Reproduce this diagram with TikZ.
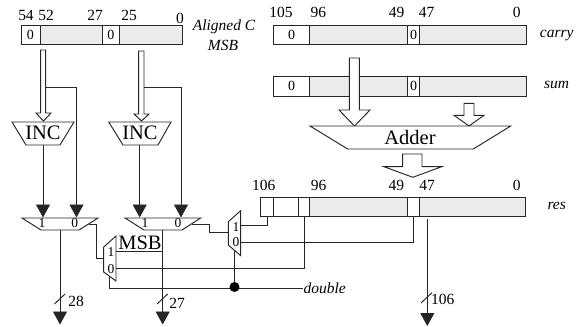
\documentclass[tikz,border=0pt]{standalone}
\usepackage{fontspec}
\setmainfont{Liberation Serif}
\usetikzlibrary{arrows.meta}
\newcommand{\regfield}[7]{\node[fieldbox,fill=#6,minimum width={(#4-#2)*1pt},minimum height={(#5-#3)*1pt}] (#1) at ({(#2+#4)/2},{(#3+#5)/2}) {#7};}
\newcommand{\hollowarrow}[7]{\draw[hollow] (#1,#3) -- (#2,#3) -- (#2,#4) -- (#6,#4) -- ({(#5+#6)/2},#7) -- (#5,#4) -- (#1,#4) -- cycle;}
\tikzset{
  wire/.style={line width=0.95pt,draw=black!85},
  arrowwire/.style={wire,-{Triangle[width=14pt,length=13pt,sep=0pt]}},
  fieldbox/.style={draw=black!85,line width=1pt,inner sep=0pt,outer sep=0pt,font=\fontsize{14}{14}\selectfont},
  hollow/.style={draw=black!85,line width=0.95pt,fill=white},
  block/.style={draw=black!85,line width=0.95pt,fill=white},
  bitnum/.style={inner sep=0pt,font=\fontsize{15.5}{15.5}\selectfont},
  muxnum/.style={inner sep=0pt,font=\fontsize{13.5}{13.5}\selectfont},
  blocktext/.style={inner sep=0pt,font=\fontsize{20.5}{20.5}\selectfont},
  side/.style={inner sep=0pt,font=\itshape\fontsize{15.5}{16}\selectfont},
  x=1pt,y=-1pt
}
\colorlet{regfill}{black!8}
\begin{document}
\begin{tikzpicture}
\useasboundingbox (0,0) rectangle (582,327);
% Aligned C
\regfield{ca}{21}{25.5}{40}{44}{white}{0}
\regfield{cb}{40}{25.5}{102.5}{44}{regfill}{}
\regfield{cc}{102.5}{25.5}{119}{44}{white}{0}
\regfield{cd}{119}{25.5}{182}{44}{regfill}{}
\foreach \n/\t/\x/\y in {a/54/26/15,b/52/46/15,c/27/95/15,d/25/129/15,e/0/180/18}
  \node[bitnum] (cl\n) at (\x,\y) {\t};
\node[side] (alignedc) at (224,27) {Aligned C};
\node[side] (msbc) at (223,45) {MSB};
% carry
\regfield{ka}{273.7}{25}{309.3}{44}{white}{0}
\regfield{kb}{309.3}{25}{407.7}{44}{regfill}{}
\regfield{kc}{407.7}{25}{419.3}{44}{white}{0}
\regfield{kd}{419.3}{25}{526}{44}{regfill}{}
\foreach \n/\t/\x in {a/105/281,b/96/318.3,c/49/396.7,d/47/426.7,e/0/516.7}
  \node[bitnum] (kl\n) at (\x,12.5) {\t};
\node[side] (carrylab) at (556.7,36) {carry};
% sum
\regfield{sa}{273.7}{76.7}{309.3}{96}{white}{0}
\regfield{sb}{309.3}{76.7}{407.7}{96}{regfill}{}
\regfield{sc}{407.7}{76.7}{419.3}{96}{white}{0}
\regfield{sd}{419.3}{76.7}{526}{96}{regfill}{}
\node[side] (sumlab) at (556.7,85) {sum};
% res
\regfield{ra}{260.7}{197.7}{273.3}{216.7}{white}{}
\regfield{rb}{273.3}{197.7}{298.7}{216.7}{white}{}
\regfield{rc}{298.7}{197.7}{309.3}{216.7}{white}{}
\regfield{rd}{309.3}{197.7}{407.7}{216.7}{regfill}{}
\regfield{re}{407.7}{197.7}{419.3}{216.7}{white}{}
\regfield{rf}{419.3}{197.7}{525.7}{216.7}{regfill}{}
\foreach \n/\t/\x in {a/106/263.7,b/96/318.7,c/49/396.3,d/47/427,e/0/516.7}
  \node[bitnum] (rl\n) at (\x,185.7) {\t};
\node[side] (reslab) at (556.7,205.7) {res};
% hollow arrows
\hollowarrow{40.7}{45.7}{50}{113}{36}{51}{121}
\hollowarrow{138.7}{144}{51}{114}{134}{149}{121}
\hollowarrow{349.3}{359.3}{58}{110}{339}{370}{126}
\hollowarrow{464}{474}{103.3}{115.3}{454}{484}{126}
\hollowarrow{402.7}{422}{154}{166.7}{384}{441.7}{177.3}
% blocks
\draw[block] (12,122) -- (74,122) -- (60,145) -- (26,145) -- cycle;
\draw[block] (108.7,122) -- (171,122) -- (158,145) -- (123,145) -- cycle;
\draw[block] (310,126) -- (510.7,126) -- (473.3,149) -- (347.7,149) -- cycle;
\node[blocktext] (inca) at (43,133) {INC};
\node[blocktext] (incb) at (140,133) {INC};
\node[blocktext] (adder) at (410,137) {Adder};
% muxes
\draw[block] (22,218) -- (98,218) -- (79,230) -- (41,230) -- cycle;
\draw[block] (125,218) -- (200.7,218) -- (182,230) -- (144,230) -- cycle;
\draw[block] (103.7,247) -- (116,236) -- (116,281) -- (103.7,272) -- cycle;
\draw[block] (228.3,221.7) -- (240.7,210.7) -- (240.7,255.7) -- (228.3,245) -- cycle;
\foreach \n/\t/\x/\y in {a/1/42/223.5,b/0/74.7/223.5,c/1/145/223.5,d/0/178/223.5,e/1/111/252,f/0/111/269,g/1/236/226.7,h/0/236/242}
  \node[muxnum] (mn\n) at (\x,\y) {\t};
% connector coordinates
\coordinate (ia) at (43,145); \coordinate (ma) at (43,217.5);
\coordinate (ib) at (45.7,87); \coordinate (mb) at (76.5,217.5);
\coordinate (ic) at (139.7,145); \coordinate (mc) at (139.7,217.5);
\coordinate (id) at (144,87); \coordinate (md) at (181,217.5);
\draw[arrowwire] (ia) -- (ma);
\draw[arrowwire] (ib) -| (mb);
\draw[arrowwire] (ic) -- (mc);
\draw[arrowwire] (id) -| (md);
% mux outputs
\coordinate (oa) at (60,230); \coordinate (oae) at (60,324.5);
\coordinate (ob) at (162.7,230); \coordinate (obe) at (162.7,324.5);
\coordinate (oc) at (427.3,219.3); \coordinate (oce) at (427.3,326);
\draw[arrowwire] (oa) -- (oae);
\draw[arrowwire] (ob) -- (obe);
\draw[arrowwire] (oc) -- (oce);
\draw[wire] (54.5,304) -- (65,294);
\draw[wire] (157,304) -- (167.7,294);
\draw[wire] (421,303) -- (432,292.7);
\node[bitnum] (w28) at (76,301) {28};
\node[bitnum] (w27) at (177,303) {27};
\node[bitnum] (w106) at (442.7,299.5) {106};
% mux to mux
\coordinate (aout) at (89,224); \coordinate (cin) at (103.7,258);
\draw[wire] (aout) -- (96,224) -- (96,258) -- (cin);
\coordinate (bout) at (192,224); \coordinate (din) at (228.3,232.7);
\draw[wire] (bout) -- (209.7,224) -- (209.7,232.7) -- (din);
% MSB
\node[blocktext] (msb) at (140,242.5) {MSB};
\coordinate (c1in) at (116,251); \coordinate (c1t) at (162.7,251);
\draw[wire] (c1in) -- (c1t);
\coordinate (c0in) at (116,268.7);
\draw[wire] (c0in) -| (rc.south);
\coordinate (d1in) at (240.7,225);
\draw[wire] (d1in) -| (ra.south);
\coordinate (d0in) at (240.7,242.7);
\draw[wire] (d0in) -| (re.south);
% select
\node[side,anchor=west] (dbl) at (303.3,288) {double};
\coordinate (csel) at (109.7,277);
\draw[wire] (csel) |- (dbl.west);
\coordinate (dsel) at (234.5,251);
\node[circle,fill=black,inner sep=0pt,minimum size=10pt] (dot) at (234.5,287) {};
\draw[wire] (dsel) -- (dot);
\end{tikzpicture}
\end{document}
